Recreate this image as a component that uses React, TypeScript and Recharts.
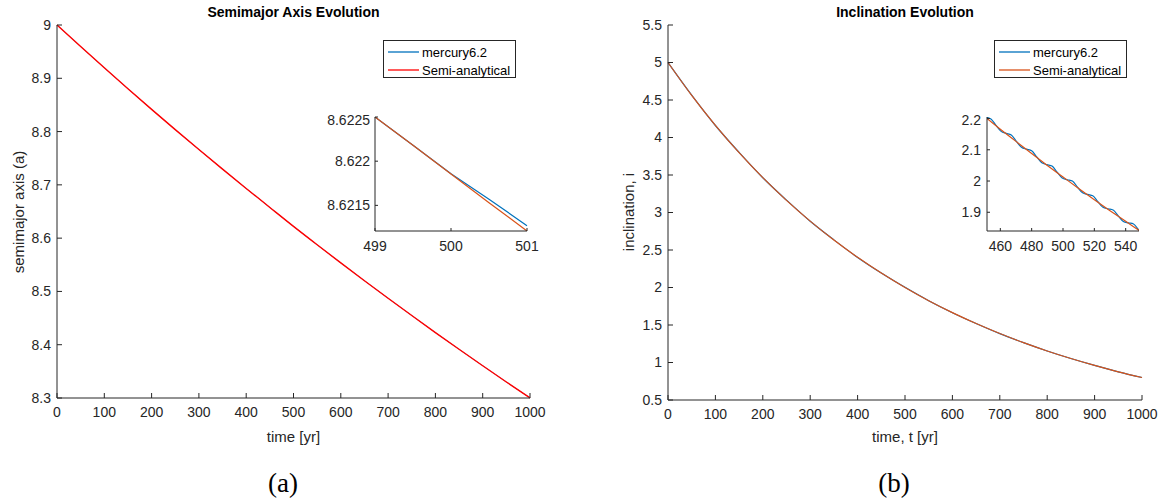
import { LineChart, Line, XAxis, YAxis } from 'recharts'

// main curves, read every 50 yr
const years = [0, 50, 100, 150, 200, 250, 300, 350, 400, 450, 500, 550, 600, 650, 700, 750, 800, 850, 900, 950, 1000]
const semiMercury = [9.0, 8.9595, 8.9196, 8.8803, 8.8417, 8.8036, 8.7663, 8.7295, 8.6933, 8.6576, 8.622, 8.5875, 8.5536, 8.5201, 8.4872, 8.4548, 8.4228, 8.3914, 8.3606, 8.3301, 8.3002]
const semiAnalytic = [9.0, 8.9595, 8.9196, 8.8803, 8.8417, 8.8036, 8.7663, 8.7295, 8.6933, 8.6576, 8.622, 8.5875, 8.5536, 8.5201, 8.4872, 8.4548, 8.4228, 8.3914, 8.3606, 8.3301, 8.3002]
const incMercury = [5.0, 4.565, 4.16, 3.801, 3.463, 3.165, 2.883, 2.635, 2.401, 2.193, 2.002, 1.824, 1.664, 1.52, 1.385, 1.265, 1.154, 1.053, 0.961, 0.876, 0.8]
const incAnalytic = [5.0, 4.562, 4.163, 3.798, 3.465, 3.162, 2.885, 2.632, 2.402, 2.192, 2.0, 1.824, 1.665, 1.519, 1.386, 1.265, 1.154, 1.053, 0.961, 0.876, 0.8]

// inset (a)
const zoomAYears = [499, 499.5, 500, 500.5, 501]
const zoomAMercury = [8.6225, 8.62218, 8.621858, 8.62157, 8.62127]
const zoomAAnalytic = [8.6225, 8.62218, 8.621855, 8.62153, 8.62121]

// inset (b)
const zoomBMercYears = [450.75, 454, 457.25, 460.5, 463.75, 467, 470.25, 473.5, 476.75, 480, 483.25, 486.5, 489.75, 493, 496.25, 499.5, 502.75, 506, 509.25, 512.5, 515.75, 519, 522.25, 525.5, 528.75, 532, 535.25, 538.5, 541.75, 545, 548.25, 551.5]
const zoomBMercury = [2.2045, 2.1989, 2.1785, 2.159, 2.1527, 2.1474, 2.1272, 2.1081, 2.102, 2.097, 2.0771, 2.0583, 2.0525, 2.0479, 2.0283, 2.0097, 2.0042, 1.9999, 1.9805, 1.9623, 1.9571, 1.953, 1.9339, 1.9159, 1.911, 1.9072, 1.8884, 1.8707, 1.8661, 1.8625, 1.844, 1.8266]
const zoomBAnaYears = [450, 460, 470, 480, 490, 500, 510, 520, 530, 540, 550]
const zoomBAnalytic = [2.206, 2.166, 2.127, 2.088, 2.05, 2.013, 1.976, 1.94, 1.905, 1.871, 1.837]

const xTicksMain = [0, 100, 200, 300, 400, 500, 600, 700, 800, 900, 1000]
const semiTicks = [8.3, 8.4, 8.5, 8.6, 8.7, 8.8, 8.9, 9]
const incTicks = [0.5, 1, 1.5, 2, 2.5, 3, 3.5, 4, 4.5, 5, 5.5]
const zoomATicksX = [499, 500, 501]
const zoomATicksY = [8.6215, 8.622, 8.6225]
const zoomBTicksX = [460, 480, 500, 520, 540]
const zoomBTicksY = [1.9, 2, 2.1, 2.2]

const BLUE = '#0072BD'
const ORANGE = '#D95319'
const RED = '#FF0000'
const AX = '#262626'
const FONT = '"Liberation Sans", Arial, Helvetica, sans-serif'

const semiData = years.map((t, i) => ({ t, merc: semiMercury[i], semi: semiAnalytic[i] }))
const incData = years.map((t, i) => ({ t, merc: incMercury[i], semi: incAnalytic[i] }))
const zoomAData = zoomAYears.map((t, i) => ({ t, merc: zoomAMercury[i], semi: zoomAAnalytic[i] }))
const zoomBMerc = zoomBMercYears.map((t, i) => ({ t, v: zoomBMercury[i] }))
const zoomBAna = zoomBAnaYears.map((t, i) => ({ t, v: zoomBAnalytic[i] }))

const tickStyle = { fill: AX, fontSize: 14, fontFamily: FONT }
const blank = () => ''

function Legend({ left, top, second }: { left: number; top: number; second: string }) {
  const row = (color: string, label: string) => (
    <div style={{ display: 'flex', alignItems: 'center', height: 18 }}>
      <svg width={36} height={10}><line x1={4} y1={5} x2={35} y2={5} stroke={color} strokeWidth={1.3} /></svg>
      <span style={{ fontSize: 13, color: '#000', marginLeft: 2 }}>{label}</span>
    </div>
  )
  return (
    <div style={{ position: 'absolute', left, top, width: 133, height: 38, border: '1px solid #262626', background: '#fff', paddingTop: 2, boxSizing: 'border-box' }}>
      {row(BLUE, 'mercury6.2')}
      {row(second, 'Semi-analytical')}
    </div>
  )
}

export default function App() {
  return (
    <div style={{ position: 'absolute', left: 0, top: 0, width: 1164, height: 504, background: '#fff', fontFamily: FONT, color: AX }}>
      {/* panel (a) */}
      <div style={{ position: 'absolute', left: 0, top: 0 }}>
        <LineChart width={560} height={440} data={semiData} margin={{ top: 25, right: 30, left: 0, bottom: 0 }}>
          <XAxis dataKey="t" type="number" domain={[0, 1000]} ticks={xTicksMain} height={42} stroke={AX} tickSize={-5} tickMargin={14} tick={tickStyle} />
          <YAxis type="number" domain={[8.3, 9]} ticks={semiTicks} width={57} stroke={AX} tickSize={-5} tickMargin={11} tick={tickStyle} />
          <Line dataKey="merc" stroke={BLUE} strokeWidth={0.6} dot={false} type="monotone" isAnimationActive={false} />
          <Line dataKey="semi" stroke={RED} strokeWidth={1.4} dot={false} type="monotone" isAnimationActive={false} />
        </LineChart>
      </div>
      <div style={{ position: 'absolute', left: 0, top: 4, width: 587, textAlign: 'center', fontWeight: 'bold', fontSize: 14, color: '#000' }}>Semimajor Axis Evolution</div>
      <div style={{ position: 'absolute', left: 18, top: 212, transform: 'translate(-50%, -50%) rotate(-90deg)', whiteSpace: 'nowrap', fontSize: 15 }}>semimajor axis (a)</div>
      <div style={{ position: 'absolute', left: 0, top: 428, width: 587, textAlign: 'center', fontSize: 15 }}>time [yr]</div>
      <div style={{ position: 'absolute', left: 0, top: 468, width: 566, textAlign: 'center', fontSize: 27, fontFamily: '"Liberation Serif", serif', color: '#000' }}>(a)</div>
      <Legend left={383} top={40} second={RED} />

      <div style={{ position: 'absolute', left: 375 - 62, top: 117 - 5 }}>
        <LineChart width={62 + 152 + 12} height={5 + 114 + 30} data={zoomAData} margin={{ top: 5, right: 12, left: 0, bottom: 0 }}>
          <rect x={62} y={5} width={152} height={114} fill="#fff" />
          <XAxis dataKey="t" type="number" domain={[499, 501]} ticks={zoomATicksX} height={30} stroke={AX} tickSize={-3} tickMargin={13} tick={tickStyle} />
          <XAxis xAxisId="top" orientation="top" type="number" domain={[499, 501]} ticks={zoomATicksX} height={0} stroke={AX} tickSize={-3} tickFormatter={blank} />
          <YAxis type="number" domain={[8.62121, 8.6225]} ticks={zoomATicksY} width={62} stroke={AX} tickSize={-3} tickMargin={8} tick={tickStyle} allowDataOverflow />
          <YAxis yAxisId="right" orientation="right" type="number" domain={[8.62121, 8.6225]} ticks={zoomATicksY} width={0} stroke={AX} tickSize={-3} tickFormatter={blank} />
          <Line dataKey="merc" stroke={BLUE} strokeWidth={1.2} dot={false} isAnimationActive={false} />
          <Line dataKey="semi" stroke={ORANGE} strokeWidth={1.2} dot={false} isAnimationActive={false} />
        </LineChart>
      </div>

      {/* panel (b) */}
      <div style={{ position: 'absolute', left: 600, top: 0 }}>
        <LineChart width={564} height={440} data={incData} margin={{ top: 25, right: 22, left: 0, bottom: 0 }}>
          <XAxis dataKey="t" type="number" domain={[0, 1000]} ticks={xTicksMain} height={40} stroke={AX} tickSize={-5} tickMargin={14} tick={tickStyle} />
          <YAxis type="number" domain={[0.5, 5.5]} ticks={incTicks} width={68} stroke={AX} tickSize={-5} tickMargin={11} tick={tickStyle} />
          <Line dataKey="merc" stroke={BLUE} strokeWidth={1.2} dot={false} type="monotone" isAnimationActive={false} />
          <Line dataKey="semi" stroke={ORANGE} strokeWidth={1.2} dot={false} type="monotone" isAnimationActive={false} />
        </LineChart>
      </div>
      <div style={{ position: 'absolute', left: 668, top: 4, width: 474, textAlign: 'center', fontWeight: 'bold', fontSize: 14, color: '#000' }}>Inclination Evolution</div>
      <div style={{ position: 'absolute', left: 628, top: 212, transform: 'translate(-50%, -50%) rotate(-90deg)', whiteSpace: 'nowrap', fontSize: 15 }}>inclination, i</div>
      <div style={{ position: 'absolute', left: 668, top: 428, width: 474, textAlign: 'center', fontSize: 15 }}>time, t [yr]</div>
      <div style={{ position: 'absolute', left: 600, top: 468, width: 588, textAlign: 'center', fontSize: 27, fontFamily: '"Liberation Serif", serif', color: '#000' }}>(b)</div>
      <Legend left={994} top={40} second={ORANGE} />

      <div style={{ position: 'absolute', left: 987 - 40, top: 117 - 5 }}>
        <LineChart width={40 + 152 + 12} height={5 + 114 + 30} margin={{ top: 5, right: 12, left: 0, bottom: 0 }}>
          <rect x={40} y={5} width={152} height={114} fill="#fff" />
          <XAxis dataKey="t" type="number" domain={[451.5, 548.5]} ticks={zoomBTicksX} height={30} stroke={AX} tickSize={-3} tickMargin={13} tick={tickStyle} allowDataOverflow />
          <XAxis xAxisId="top" orientation="top" type="number" domain={[451.5, 548.5]} ticks={zoomBTicksX} height={0} stroke={AX} tickSize={-3} tickFormatter={blank} allowDataOverflow />
          <YAxis type="number" domain={[1.84, 2.205]} ticks={zoomBTicksY} width={40} stroke={AX} tickSize={-3} tickMargin={9} tick={tickStyle} allowDataOverflow />
          <YAxis yAxisId="right" orientation="right" type="number" domain={[1.84, 2.205]} ticks={zoomBTicksY} width={0} stroke={AX} tickSize={-3} tickFormatter={blank} allowDataOverflow />
          <Line data={zoomBMerc} dataKey="v" stroke={BLUE} strokeWidth={1.2} dot={false} type="monotone" isAnimationActive={false} />
          <Line data={zoomBAna} dataKey="v" stroke={ORANGE} strokeWidth={1.2} dot={false} type="monotone" isAnimationActive={false} />
        </LineChart>
      </div>
    </div>
  )
}
